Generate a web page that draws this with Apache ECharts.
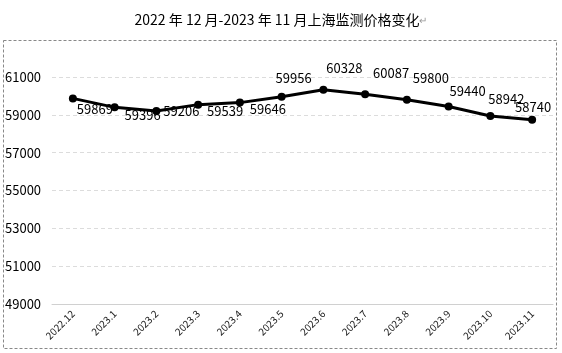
<!DOCTYPE html>
<html>
<head>
<meta charset="utf-8">
<title>上海监测价格变化</title>
<script src="https://cdn.jsdelivr.net/npm/echarts@6/dist/echarts.min.js"></script>
<style>
    html, body {
        margin: 0;
        padding: 0;
        background: #ffffff;
    }
    #chart {
        width: 562px;
        height: 353px;
    }
</style>
</head>
<body>
<div id="chart"></div>
<script>
// data
const months = ["2022.12", "2023.1", "2023.2", "2023.3", "2023.4", "2023.5",
    "2023.6", "2023.7", "2023.8", "2023.9", "2023.10", "2023.11"];
const prices = [59869, 59396, 59206, 59539, 59646, 59956,
    60328, 60087, 59800, 59440, 58942, 58740];
const yTicks = [49000, 51000, 53000, 55000, 57000, 59000, 61000];

// hand-placed labels (offset from the point, like the original)
const labelOffsets = [
    [22, 11], [28, 8], [25, 0], [27, 6], [28, 6], [12, -19],
    [21, -22], [26, -21], [24, -22], [19, -15], [16, -17], [1, -13]
];

const chart = echarts.init(document.getElementById("chart"));

const option = {
    animation: false,
    textStyle: {
        fontFamily: "'Noto Sans CJK SC', 'Noto Sans', sans-serif",
    },
    title: {
        text: "2022 年 12 月-2023 年 11 月上海监测价格变化{mark|↵}",
        left: "center",
        top: 8,
        textStyle: {
            fontSize: 14,
            fontWeight: "normal",
            color: "#000",
            rich: {
                mark: { fontSize: 10, color: "#999" },
            },
        },
    },
    graphic: [
        {
            type: "rect",
            shape: { x: 3.5, y: 40.5, width: 553, height: 308 },
            style: { fill: "none", stroke: "#888", lineWidth: 1, lineDash: [3, 2] },
            silent: true,
        },
    ],
    grid: {
        left: 52,
        right: 9,
        top: 77,
        bottom: 49,
    },
    xAxis: {
        type: "category",
        data: months,
        boundaryGap: true,
        axisLine: { lineStyle: { color: "#d0d0d0", width: 1 } },
        axisTick: { show: false },
        axisLabel: {
            rotate: 45,
            interval: 0,
            fontSize: 10,
            color: "#222",
            margin: 8,
        },
    },
    yAxis: {
        type: "value",
        min: yTicks[0],
        max: yTicks[yTicks.length - 1],
        interval: 2000,
        axisLine: { show: false },
        axisTick: { show: false },
        axisLabel: {
            fontSize: 13,
            color: "#000",
            align: "left",
            margin: 47,
            formatter: (v) => String(v),
        },
        splitLine: {
            lineStyle: { color: "#dcdcdc", type: [4, 3] },
        },
    },
    series: [
        {
            type: "line",
            data: prices.map((v, i) => ({
                value: v,
                label: { offset: labelOffsets[i] },
            })),
            symbol: "circle",
            symbolSize: 8,
            lineStyle: { color: "#000", width: 3 },
            itemStyle: { color: "#000" },
            label: {
                show: true,
                position: "inside",
                fontSize: 13,
                color: "#000",
            },
        },
    ],
};

chart.setOption(option);
</script>
</body>
</html>
